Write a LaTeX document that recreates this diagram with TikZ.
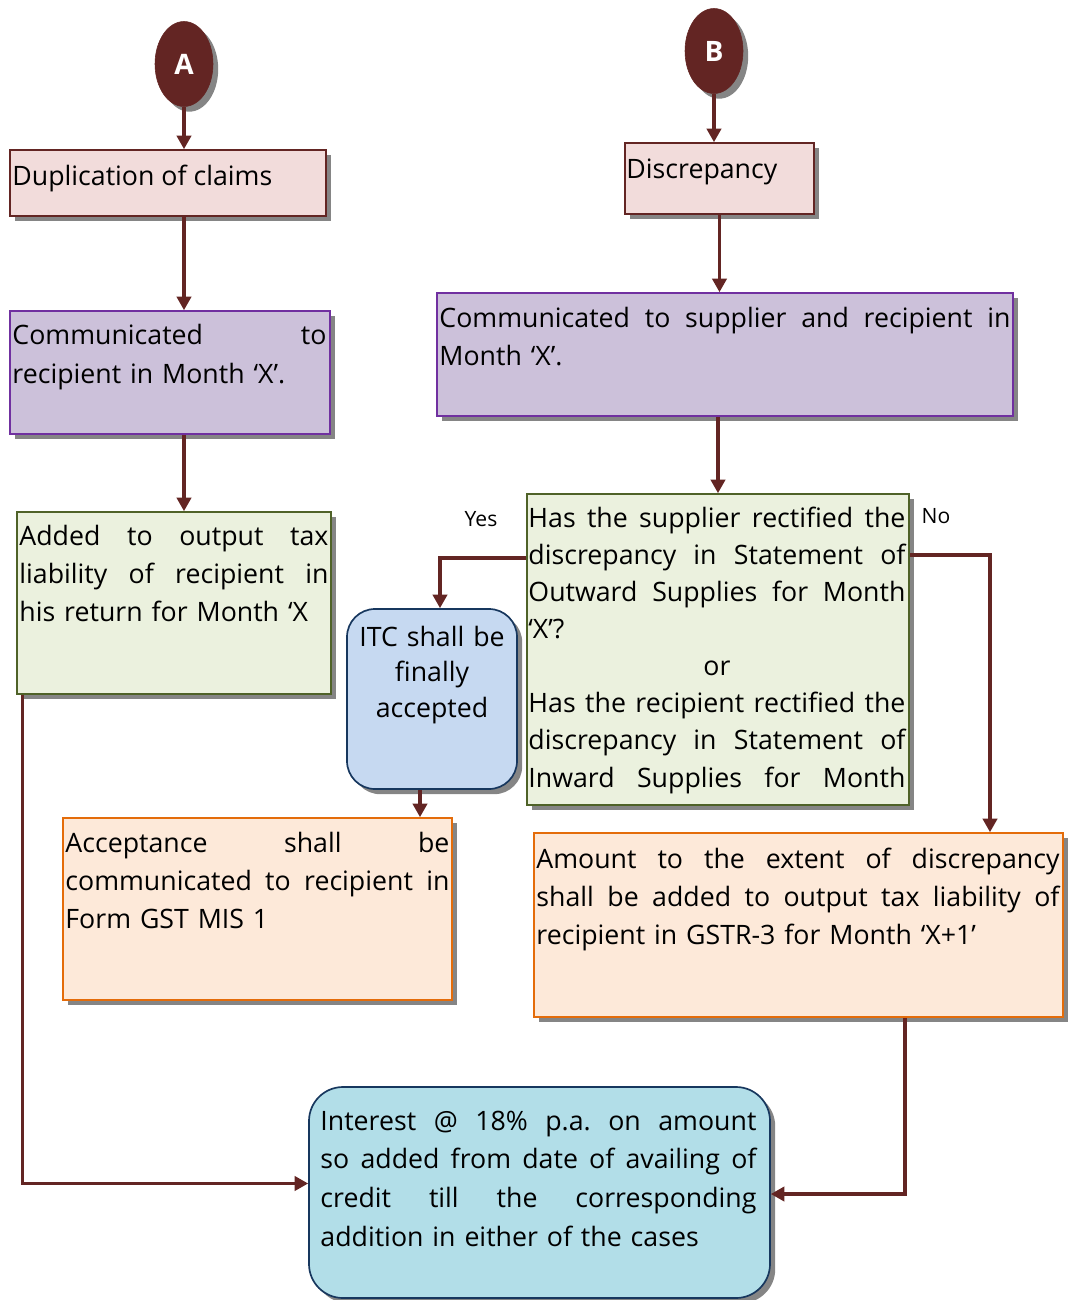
\documentclass[tikz,border=0pt]{standalone}
\usepackage{fontspec}
\setmainfont{Open Sans}
\usetikzlibrary{arrows.meta,shadows,shapes.geometric,positioning}

\definecolor{maroon}{HTML}{632523}
\definecolor{pinkfill}{HTML}{F2DCDB}
\definecolor{purplefill}{HTML}{CCC1DA}
\definecolor{purpleline}{HTML}{7030A0}
\definecolor{greenfill}{HTML}{EBF1DE}
\definecolor{greenline}{HTML}{4F6228}
\definecolor{bluefill}{HTML}{C6D9F1}
\definecolor{blueline}{HTML}{17375E}
\definecolor{orangefill}{HTML}{FDE9D9}
\definecolor{orangeline}{HTML}{E46C0A}
\definecolor{tealfill}{HTML}{B2DEE8}

\newcommand{\px}{0.025cm}
\newcommand{\jl}[1]{\leavevmode\hbox to \hsize{#1}}

\tikzset{
	shadowed/.style={drop shadow={shadow xshift=0.13cm, shadow yshift=-0.13cm, fill=black!48, opacity=1}},
	box/.style={rectangle, line width=1.2pt, inner sep=0pt, shadowed},
	pinkbox/.style={box, draw=maroon, fill=pinkfill},
	purplebox/.style={box, draw=purpleline, fill=purplefill},
	greenbox/.style={box, draw=greenline, fill=greenfill},
	orangebox/.style={box, draw=orangeline, fill=orangefill},
	bluebox/.style={box, draw=blueline, fill=bluefill, rounded corners=0.7cm},
	tealbox/.style={box, draw=blueline, fill=tealfill, rounded corners=0.85cm},
	letter/.style={ellipse, fill=maroon, draw=maroon, inner sep=0pt, minimum width=58*\px, minimum height=85*\px, text=white, font=\bfseries\fontsize{20}{24}\selectfont, shadowed},
	txt/.style={inner sep=0pt, anchor=base west, align=left, font=\fontsize{19}{27.3}\selectfont},
	branch/.style={inner sep=0pt, font=\fontsize{15}{18}\selectfont},
	flow/.style={draw=maroon, line width=2.2pt, -{Triangle[length=0.34cm,width=0.36cm]}}
}

\begin{document}
\begin{tikzpicture}[x=0.025cm, y=-0.025cm]
	\useasboundingbox (0,0) rectangle (1071,1300);
	\node[letter] (A) at (184,64) {A};
	\node[letter] (B) at (714,51) {B};
	\node[pinkbox, minimum width=316*\px, minimum height=66*\px] (dup) at (168,183) {};
	\node[txt] (dupt) at ([shift={(3,36)}]dup.north west) {Duplication of claims};
	\node[purplebox, minimum width=320*\px, minimum height=123*\px] (comm1) at (170,372.5) {};
	\node[txt, text width=314*\px, font=\fontsize{19}{28.3}\selectfont] (comm1t) at ([shift={(3,34)}]comm1.north west) {\jl{Communicated\hfill to}\\recipient in Month ‘X’.};
	\node[greenbox, minimum width=314*\px, minimum height=182*\px] (added) at (174,603) {};
	\node[txt, text width=309*\px] (addedt) at ([shift={(3,34)}]added.north west) {\jl{Added\hfill to\hfill output\hfill tax}\\\jl{liability\hfill of\hfill recipient\hfill in}\\his return for Month ‘X};
	\node[pinkbox, minimum width=189*\px, minimum height=71*\px] (disc) at (719.5,178.5) {};
	\node[txt] (disct) at ([shift={(2,36)}]disc.north west) {Discrepancy};
	\node[purplebox, minimum width=576*\px, minimum height=123*\px] (comm2) at (725,354.5) {};
	\node[txt, text width=571*\px, font=\fontsize{19}{27}\selectfont] (comm2t) at ([shift={(3,35)}]comm2.north west) {\jl{Communicated\hfill to\hfill supplier\hfill and\hfill recipient\hfill in}\\Month ‘X’.};
	\node[greenbox, minimum width=382*\px, minimum height=311*\px] (has) at (718,649.5) {};
	\node[txt, text width=377*\px, font=\fontsize{19}{26.4}\selectfont] (hast) at ([shift={(2,34)}]has.north west) {\jl{Has\hfill the\hfill supplier\hfill rectified\hfill the}\\\jl{discrepancy\hfill in\hfill Statement\hfill of}\\\jl{Outward\hfill Supplies\hfill for\hfill Month}\\‘X’?\\\jl{\hfill or\hfill}\\\jl{Has\hfill the\hfill recipient\hfill rectified\hfill the}\\\jl{discrepancy\hfill in\hfill Statement\hfill of}\\\jl{Inward\hfill Supplies\hfill for\hfill Month}};
	\node[bluebox, minimum width=170*\px, minimum height=180*\px] (itc) at (432,699) {};
	\node[txt, anchor=base, align=center, text width=165*\px, font=\fontsize{19}{25.2}\selectfont] (itct) at ([shift={(0,38)}]itc.north) {ITC shall be\\finally\\accepted};
	\node[orangebox, minimum width=389*\px, minimum height=182*\px] (accept) at (257.5,909) {};
	\node[txt, text width=384*\px] (acceptt) at ([shift={(3,35)}]accept.north west) {\jl{Acceptance\hfill shall\hfill be}\\\jl{communicated\hfill to\hfill recipient\hfill in}\\Form GST MIS 1};
	\node[orangebox, minimum width=529*\px, minimum height=184*\px] (amount) at (798.5,925) {};
	\node[txt, text width=523*\px] (amountt) at ([shift={(3,36)}]amount.north west) {\jl{Amount\hfill to\hfill the\hfill extent\hfill of\hfill discrepancy}\\\jl{shall\hfill be\hfill added\hfill to\hfill output\hfill tax\hfill liability\hfill of}\\recipient in GSTR-3 for Month ‘X+1’};
	\node[tealbox, minimum width=461*\px, minimum height=211*\px] (interest) at (539.5,1192.5) {};
	\node[txt, text width=436*\px, font=\fontsize{19}{27.6}\selectfont] (interestt) at ([shift={(12,44)}]interest.north west) {\jl{Interest\hfill @\hfill 18\%\hfill p.a.\hfill on\hfill amount}\\\jl{so\hfill added\hfill from\hfill date\hfill of\hfill availing\hfill of}\\\jl{credit\hfill till\hfill the\hfill corresponding}\\addition in either of the cases};
	\node[branch] (yes) at (481,519) {Yes};
	\node[branch] (no) at (936,516) {No};
	\coordinate (itcout) at ([shift={(-12,0)}]itc.south);
	\draw[flow] (A.south) -- (A.south |- dup.north);
	\draw[flow] (A.south |- dup.south) -- (A.south |- comm1.north);
	\draw[flow] (A.south |- comm1.south) -- (A.south |- added.north);
	\draw[flow] (B.south) -- (B.south |- disc.north);
	\draw[flow] (disc.south) -- (disc.south |- comm2.north);
	\draw[flow] (has.north |- comm2.south) -- (has.north);
	\draw[flow] ([shift={(0,-91.5)}]has.west) -| ([shift={(8,0)}]itc.north);
	\draw[flow] ([shift={(0,-94.5)}]has.east) -| ([shift={(191.5,0)}]amount.north);
	\draw[flow] (itcout) -- (itcout |- accept.north);
	\draw[flow] ([shift={(6,0)}]added.south west) |- ([shift={(0,-9)}]interest.west);
	\draw[flow] ([shift={(106.5,0)}]amount.south) |- ([shift={(0,1.5)}]interest.east);
\end{tikzpicture}
\end{document}
